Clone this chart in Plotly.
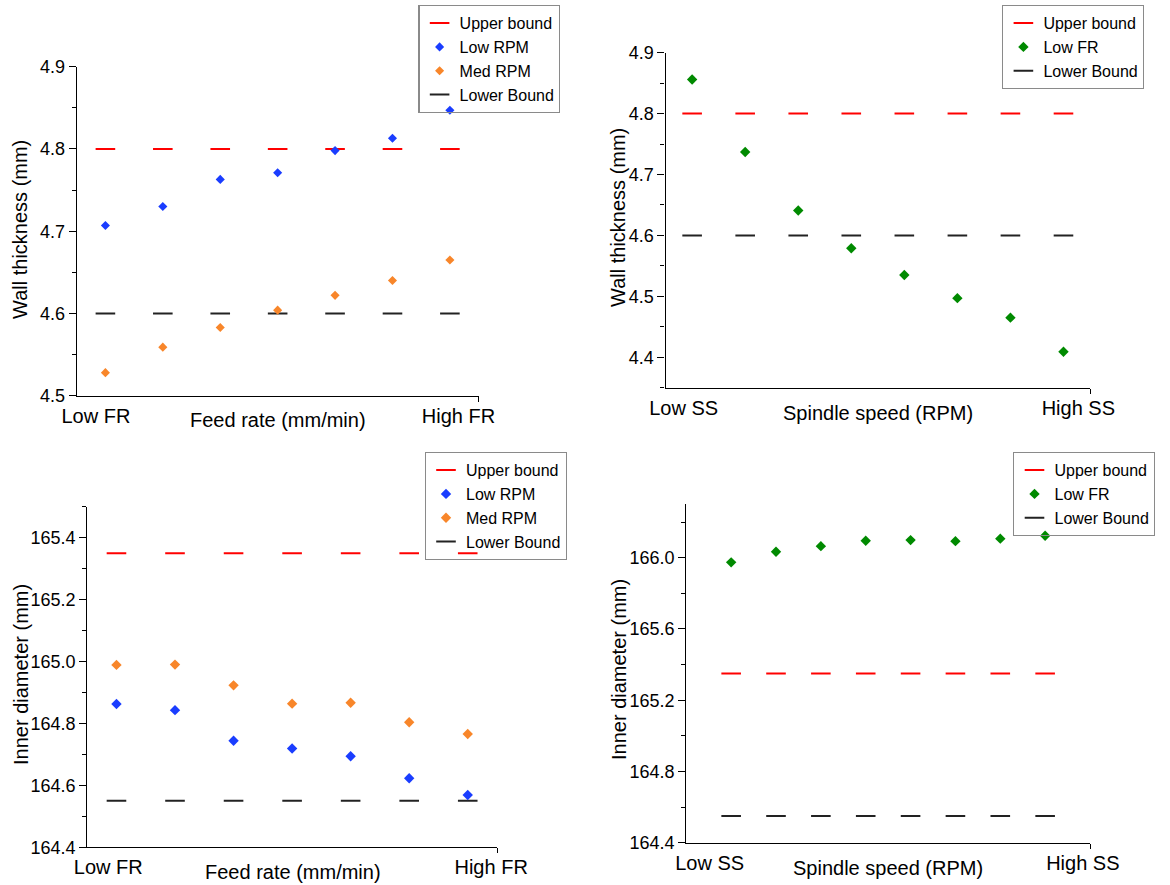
import plotly.graph_objects as go

# ---------------- data ----------------
fr_steps = [1, 2, 3, 4, 5, 6, 7]
ss_steps = [1, 2, 3, 4, 5, 6, 7, 8]

wt_low_rpm = [4.707, 4.730, 4.763, 4.771, 4.798, 4.813, 4.847]
wt_med_rpm = [4.528, 4.559, 4.583, 4.604, 4.622, 4.640, 4.665]
wt_upper = 4.80
wt_lower = 4.60

wt_low_fr = [4.856, 4.737, 4.641, 4.579, 4.535, 4.497, 4.465, 4.409]

id_low_rpm = [164.863, 164.843, 164.744, 164.719, 164.694, 164.623, 164.569]
id_med_rpm = [164.989, 164.990, 164.923, 164.864, 164.867, 164.804, 164.766]
id_upper = 165.35
id_lower = 164.55

id_low_fr = [165.974, 166.034, 166.065, 166.095, 166.099, 166.093, 166.107, 166.123]

fr_labels = ["Low FR", "High FR"]
ss_labels = ["Low SS", "High SS"]

# ---------------- style ----------------
FONT = "Arial, Liberation Sans, sans-serif"
RED = "#ff0000"
BLACK = "#222222"
BLUE = "#1a3dff"
ORANGE = "#f8862a"
GREEN = "#008a00"

W, H = 1170, 885


def px_x(a, b):
    return [a / W, b / W]


def px_y(bottom, top):
    return [1 - bottom / H, 1 - top / H]


fig = go.Figure()


def bound(x, val, color, name, xa, ya, leg, rank):
    fig.add_trace(go.Scatter(
        x=x, y=[val] * len(x), mode="markers", name=name,
        xaxis=xa, yaxis=ya, legend=leg, legendrank=rank,
        marker=dict(symbol="line-ew", size=14, color=color,
                    line=dict(width=2, color=color)),
        hoverinfo="y"))


def pts(x, y, color, name, xa, ya, leg, rank, size):
    fig.add_trace(go.Scatter(
        x=x, y=y, mode="markers", name=name,
        xaxis=xa, yaxis=ya, legend=leg, legendrank=rank,
        marker=dict(symbol="diamond", size=size, color=color,
                    line=dict(width=0))))


# panel 1
bound(fr_steps, wt_upper, RED, "Upper bound", "x", "y", "legend", 1)
bound(fr_steps, wt_lower, BLACK, "Lower Bound", "x", "y", "legend", 4)
pts(fr_steps, wt_low_rpm, BLUE, "Low RPM", "x", "y", "legend", 2, 7)
pts(fr_steps, wt_med_rpm, ORANGE, "Med RPM", "x", "y", "legend", 3, 7)

# panel 2
bound(ss_steps, wt_upper, RED, "Upper bound", "x2", "y2", "legend2", 1)
bound(ss_steps, wt_lower, BLACK, "Lower Bound", "x2", "y2", "legend2", 3)
pts(ss_steps, wt_low_fr, GREEN, "Low FR", "x2", "y2", "legend2", 2, 8)

# panel 3
bound(fr_steps, id_upper, RED, "Upper bound", "x3", "y3", "legend3", 1)
bound(fr_steps, id_lower, BLACK, "Lower Bound", "x3", "y3", "legend3", 4)
pts(fr_steps, id_low_rpm, BLUE, "Low RPM", "x3", "y3", "legend3", 2, 8)
pts(fr_steps, id_med_rpm, ORANGE, "Med RPM", "x3", "y3", "legend3", 3, 8)

# panel 4
bound(ss_steps, id_upper, RED, "Upper bound", "x4", "y4", "legend4", 1)
bound(ss_steps, id_lower, BLACK, "Lower Bound", "x4", "y4", "legend4", 3)
pts(ss_steps, id_low_fr, GREEN, "Low FR", "x4", "y4", "legend4", 2, 8)


def xaxis(domain, rng, labpos, labels, yanchor):
    return dict(domain=domain, range=rng, anchor=yanchor, automargin=False,
                showline=True, linecolor="black", linewidth=1.3,
                showgrid=False, zeroline=False,
                tickmode="array", tickvals=labpos, ticktext=labels,
                ticks="", ticklabelstandoff=2,
                tickfont=dict(family=FONT, size=20, color="black"),
                minor=dict(tickmode="array", tickvals=[rng[1]], ticks="outside",
                           ticklen=5, tickcolor="black", tickwidth=1.3),
                fixedrange=True)


def yaxis(domain, rng, tick0, dtick, mdtick, xanchor):
    return dict(domain=domain, range=rng, anchor=xanchor, automargin=False,
                showline=True, linecolor="black", linewidth=1.3,
                showgrid=False, zeroline=False,
                tick0=tick0, dtick=dtick, tickformat=".1f",
                ticks="outside", ticklen=7, tickwidth=1.3, tickcolor="black",
                tickfont=dict(family=FONT, size=18, color="black"),
                minor=dict(tick0=tick0, dtick=mdtick, ticks="outside",
                           ticklen=4, tickcolor="black", tickwidth=1.2),
                fixedrange=True)


def legend(x, y):
    return dict(x=x / W, y=1 - y / H, xanchor="left", yanchor="top",
                bgcolor="rgba(255,255,255,0)", bordercolor="#8a8a8a", borderwidth=1.2,
                font=dict(family=FONT, size=16, color="black"),
                tracegroupgap=0, itemwidth=30, traceorder="normal")


fig.update_layout(
    width=W, height=H,
    margin=dict(l=0, r=0, t=0, b=0, autoexpand=False),
    paper_bgcolor="white", plot_bgcolor="white",
    font=dict(family=FONT, color="black"),
    showlegend=True,
    xaxis=xaxis(px_x(76.7, 478.6), [0.5, 7.5], [0.834, 7.15], fr_labels, "y"),
    yaxis=yaxis(px_y(395.7, 66.7), [4.5, 4.9], 4.5, 0.1, 0.05, "x"),
    xaxis2=xaxis(px_x(665.6, 1090), [0.5, 8.5], [0.84, 8.28], ss_labels, "y2"),
    yaxis2=yaxis(px_y(387.7, 52.7), [4.35, 4.9], 4.4, 0.1, 0.05, "x2"),
    xaxis3=xaxis(px_x(87.2, 497), [0.5, 7.5], [0.86, 7.40], fr_labels, "y3"),
    yaxis3=yaxis(px_y(847.3, 506.7), [164.4, 165.5], 164.4, 0.2, 0.1, "x3"),
    xaxis4=xaxis(px_x(686.3, 1090), [0, 9], [0.52, 8.84], ss_labels, "y4"),
    yaxis4=yaxis(px_y(842.7, 504.3), [164.4, 166.3], 164.4, 0.4, 0.2, "x4"),
    legend=legend(418.4, 5),
    legend2=legend(1002.2, 5),
    legend3=legend(424.8, 452),
    legend4=legend(1013.3, 452),
)

titles = [
    ("Feed rate (mm/min)", 278.2, 420, 0),
    ("Spindle speed (RPM)", 878.1, 413, 0),
    ("Feed rate (mm/min)", 292.5, 872.3, 0),
    ("Spindle speed (RPM)", 888.1, 867.7, 0),
    ("Wall thickness (mm)", 20, 230, -90),
    ("Wall thickness (mm)", 618, 218, -90),
    ("Inner diameter (mm)", 21, 675, -90),
    ("Inner diameter (mm)", 619, 670, -90),
]
for text, ax, ay, rot in titles:
    fig.add_annotation(text=text, x=ax / W, y=1 - ay / H, xref="paper", yref="paper",
                       xanchor="center", yanchor="middle", showarrow=False,
                       textangle=rot, font=dict(family=FONT, size=20, color="black"))

fig.write_html(
    "out.html",
    config={"displayModeBar": False},
    post_script="document.body.style.margin='0px';document.body.style.overflow='hidden';",
)
